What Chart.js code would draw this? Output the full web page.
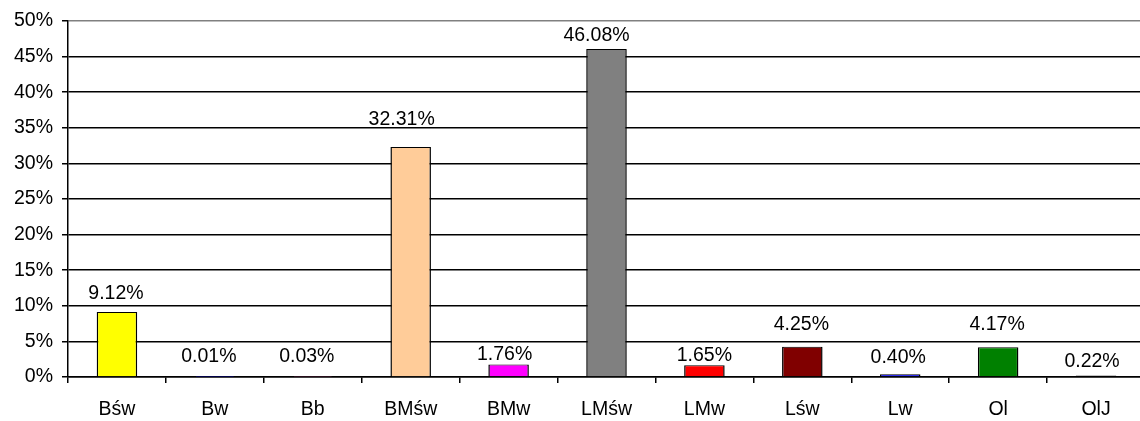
<!DOCTYPE html>
<html>
<head>
<meta charset="utf-8">
<script src="https://cdn.jsdelivr.net/npm/chart.js@4/dist/chart.umd.min.js"></script>
<style>
  html, body { margin: 0; padding: 0; background: #fff; overflow: hidden; }
  #wrap { width: 1150px; height: 421px; }
</style>
</head>
<body>
<div id="wrap"><canvas id="barChart"></canvas></div>
<script>
const categories = ['Bśw', 'Bw', 'Bb', 'BMśw', 'BMw', 'LMśw', 'LMw', 'Lśw', 'Lw', 'Ol', 'OlJ'];
const shares = [9.12, 0.01, 0.03, 32.31, 1.76, 46.08, 1.65, 4.25, 0.40, 4.17, 0.22];
const barColors = ['#ffff00', '#000080', '#993366', '#ffcc99', '#ff00ff', '#808080',
                   '#ff0000', '#800000', '#0000ff', '#008000', '#000000'];
const yTicks = [0, 5, 10, 15, 20, 25, 30, 35, 40, 45, 50];

// label placement as in the original (gap above bar top, sideways nudge), px
const labelLift = [13, 15, 15, 22, 4, 8, 4, 17, 11, 17, 8];
const labelShift = [-1, -6, -6, -9, -4, -10, 0, -1, -2, -1, -4];

const FONT = { family: '"Liberation Sans", Arial, sans-serif', size: 19.5 };

const valueLabels = {
  id: 'valueLabels',
  afterDatasetsDraw(chart) {
    const ctx = chart.ctx;
    const meta = chart.getDatasetMeta(0);
    ctx.save();
    ctx.font = FONT.size + 'px ' + FONT.family;
    ctx.fillStyle = '#000';
    ctx.textAlign = 'center';
    ctx.textBaseline = 'alphabetic';
    meta.data.forEach((bar, i) => {
      ctx.fillText(shares[i].toFixed(2) + '%', bar.x + labelShift[i], bar.y - labelLift[i]);
    });
    ctx.restore();
  }
};

new Chart(document.getElementById('barChart'), {
  type: 'bar',
  data: {
    labels: categories,
    datasets: [{
      data: shares,
      backgroundColor: barColors,
      borderColor: '#000',
      borderWidth: { top: 1, left: 1.5, right: 1.5, bottom: 0 },
      barPercentage: 0.414,
      categoryPercentage: 1
    }]
  },
  options: {
    responsive: true,
    maintainAspectRatio: false,
    animation: false,
    layout: { padding: { top: 21, right: 5, left: 0, bottom: 0 } },
    plugins: { legend: { display: false }, tooltip: { enabled: false } },
    scales: {
      x: {
        afterFit: s => { s.height = 44; },
        grid: {
          offset: true,
          drawOnChartArea: false,
          color: '#000',
          lineWidth: 1.5,
          tickLength: 6
        },
        border: { color: '#000', width: 1.5 },
        ticks: { color: '#000', font: FONT, padding: 15, maxRotation: 0, autoSkip: false }
      },
      y: {
        min: 0,
        max: 50,
        afterFit: s => { s.width = 68; },
        afterBuildTicks: s => { s.ticks = yTicks.map(v => ({ value: v })); },
        grid: {
          color: c => (c.tick && c.tick.value === 50 ? '#808080' : '#000'),
          tickColor: '#000',
          lineWidth: 1.5,
          tickLength: 6
        },
        border: { color: '#000', width: 1.5 },
        ticks: {
          color: '#000',
          font: FONT,
          padding: 9,
          callback: v => v + '%'
        }
      }
    }
  },
  plugins: [valueLabels]
});
</script>
</body>
</html>
